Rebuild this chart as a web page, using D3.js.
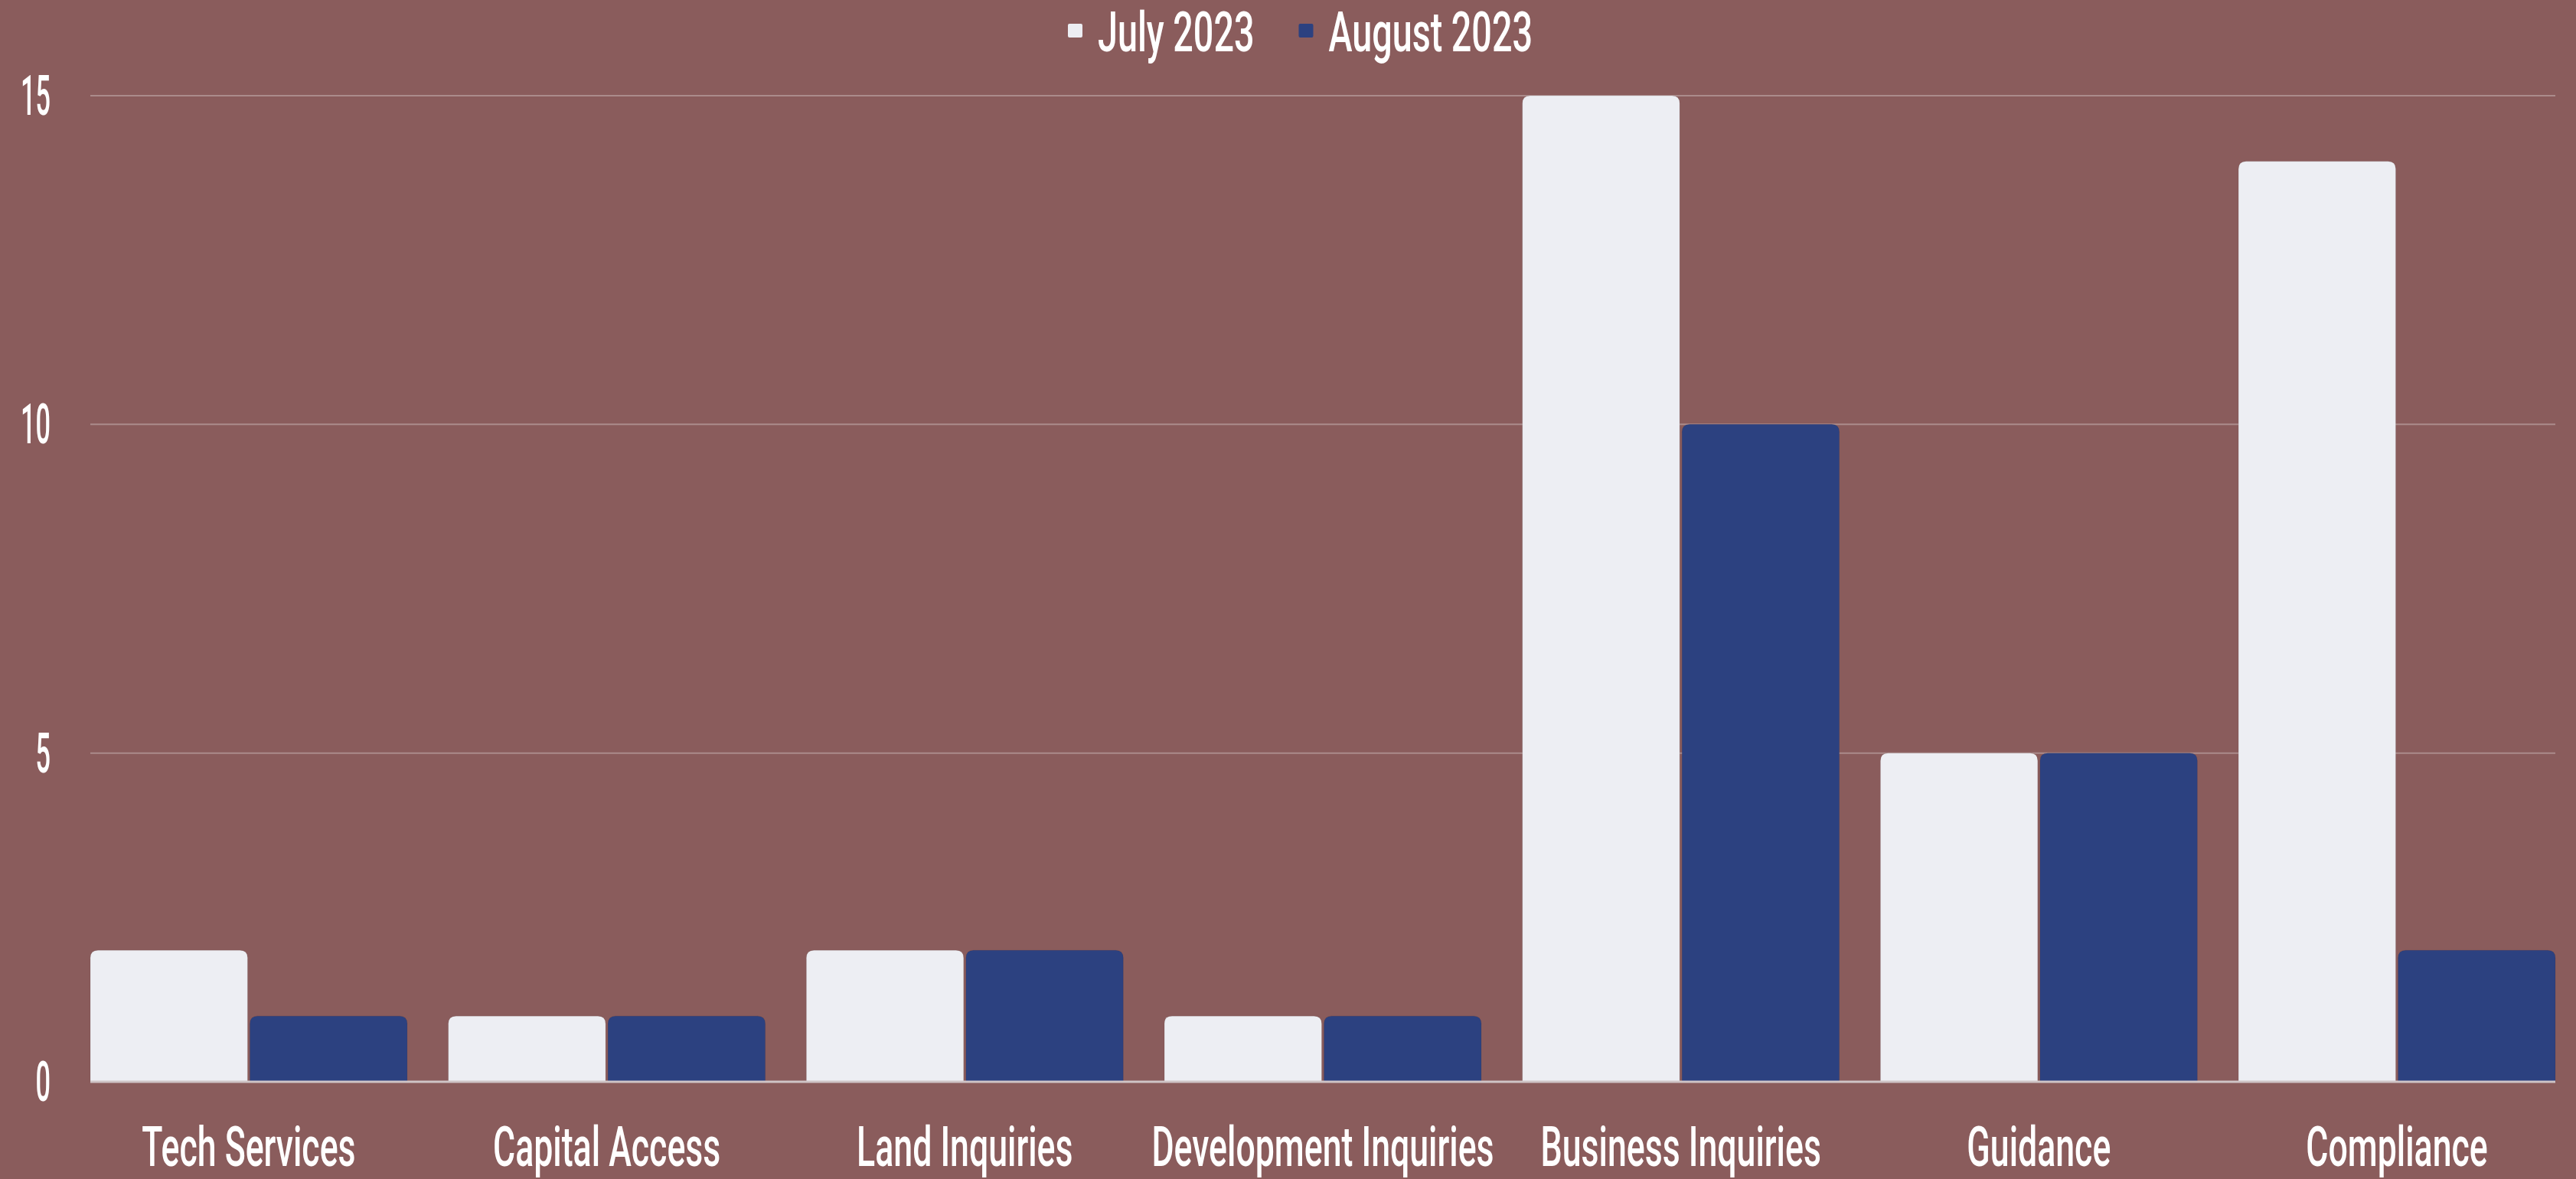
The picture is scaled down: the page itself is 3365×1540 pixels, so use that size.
<!DOCTYPE html>
<html>
<head>
<meta charset="utf-8">
<script src="https://cdn.jsdelivr.net/npm/d3@7"></script>
<style>
  html, body { margin: 0; padding: 0; background: #8a5c5c; }
  svg { display: block; }
  text { font-family: Roboto, "Liberation Sans", sans-serif; font-weight: 500; fill: #ffffff; }
</style>
</head>
<body>
<svg id="chart" width="3365" height="1540"></svg>
<script>
const categories = ["Tech Services", "Capital Access", "Land Inquiries", "Development Inquiries", "Business Inquiries", "Guidance", "Compliance"];
const seriesNames = ["July 2023", "August 2023"];
const july2023 = [2, 1, 2, 1, 15, 5, 14];
const august2023 = [1, 1, 2, 1, 10, 5, 2];
const yTicks = [0, 5, 10, 15];
const seriesColors = ["#edeef3", "#2c4180"];

const W = 3365, H = 1540;
const margin = { left: 118, right: 27, top: 125, bottom: 127 };
const sxX = 0.612, sxY = 0.47, sxL = 0.64; // horizontal compression to imitate condensed typeface
const FS = 73;

const svg = d3.select("#chart");
svg.append("rect").attr("width", W).attr("height", H).attr("fill", "#8a5c5c");

const x0 = d3.scaleBand().domain(categories)
  .range([margin.left, W - margin.right]).paddingInner(0.115).paddingOuter(0);
const x1 = d3.scaleBand().domain(seriesNames)
  .range([0, x0.bandwidth()]).paddingInner(0.015);
const y = d3.scaleLinear().domain([0, 15]).range([H - margin.bottom, margin.top]);

// gridlines
const grid = svg.append("g");
grid.selectAll("line").data(yTicks.filter(d => d !== 0)).join("line")
  .attr("x1", margin.left).attr("x2", W - margin.right)
  .attr("y1", d => y(d)).attr("y2", d => y(d))
  .attr("stroke", "#ab8b8b").attr("stroke-width", 2);

// y axis labels
const yAxis = d3.axisLeft(y).tickValues(yTicks).tickSize(0).tickPadding(0);
const yg = svg.append("g").attr("transform", `translate(66,0)`).call(yAxis);
yg.select(".domain").remove();
yg.selectAll(".tick").attr("transform", null);
yg.selectAll(".tick text")
  .attr("x", null).attr("dy", null).attr("y", null)
  .attr("font-size", FS)
  .attr("text-anchor", "end")
  .attr("dominant-baseline", "central")
  .attr("transform", d => `translate(0,${y(d)}) scale(${sxY},1)`)
  .style("font-family", "Roboto, sans-serif").style("font-weight", 500).attr("fill", "#fff");

// bars
function barPath(x, yTop, w, h, r) {
  r = Math.min(r, h, w / 2);
  return `M${x},${yTop + h}V${yTop + r}Q${x},${yTop} ${x + r},${yTop}H${x + w - r}Q${x + w},${yTop} ${x + w},${yTop + r}V${yTop + h}Z`;
}
const values = [july2023, august2023];
const groups = svg.append("g").selectAll("g").data(categories).join("g")
  .attr("transform", d => `translate(${x0(d)},0)`);
groups.selectAll("path").data((c, i) => seriesNames.map((s, k) => ({ s, k, v: values[k][i] }))).join("path")
  .attr("d", d => barPath(x1(d.s), y(d.v), x1.bandwidth(), y(0) - y(d.v), 10))
  .attr("fill", d => seriesColors[d.k])
  .attr("stroke", "rgba(0,0,0,0.08)").attr("stroke-width", 1);

// baseline
svg.append("line").attr("x1", margin.left).attr("x2", W - margin.right)
  .attr("y1", y(0)).attr("y2", y(0)).attr("stroke", "#cfc4c6").attr("stroke-width", 3);

// x axis labels
const xAxis = d3.axisBottom(x0).tickSize(0).tickPadding(0);
const xg = svg.append("g").attr("transform", `translate(0,1523)`).call(xAxis);
xg.select(".domain").remove();
xg.selectAll(".tick text")
  .attr("y", 0).attr("dy", null)
  .attr("font-size", FS)
  .attr("transform", `scale(${sxX},1)`)
  .style("font-family", "Roboto, sans-serif").style("font-weight", 500).attr("fill", "#fff");

// legend
const legend = svg.append("g");
const items = legend.selectAll("g").data(seriesNames).join("g");
items.append("rect").attr("width", 19).attr("height", 18).attr("rx", 2)
  .attr("y", 31).attr("fill", (d, i) => seriesColors[i]);
items.append("text").text(d => d)
  .attr("font-size", FS)
  .attr("y", 67)
  .attr("transform", `translate(39,0) scale(${sxL},1)`);
let cx = 0;
const pos = [];
items.each(function (d, i) {
  const tw = d3.select(this).select("text").node().getComputedTextLength() * sxL;
  pos.push(cx);
  cx += 39 + tw + 58;
});
const totalW = cx - 58;
const startX = (W - totalW) / 2 + 16;
items.attr("transform", (d, i) => `translate(${startX + pos[i]},0)`);
</script>
</body>
</html>
